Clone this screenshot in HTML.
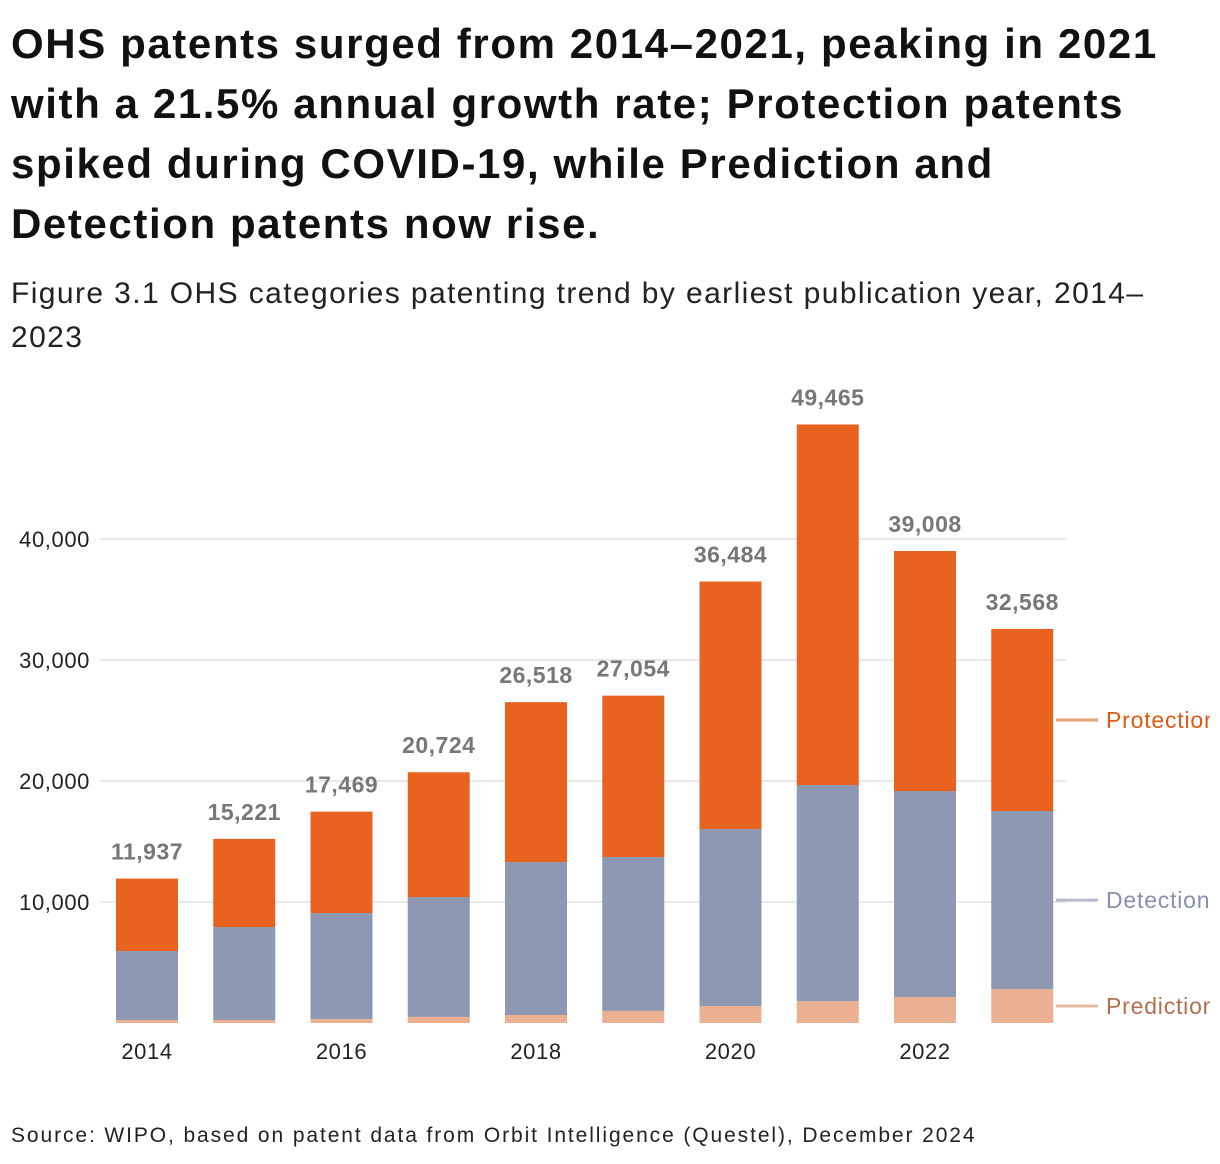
<!DOCTYPE html>
<html><head><meta charset="utf-8"><style>
body{margin:0;background:#fff;font-family:"Liberation Sans",sans-serif;overflow:hidden;}
.title{position:absolute;left:11px;top:14px;width:1220px;white-space:nowrap;font-weight:bold;font-size:42px;letter-spacing:1.6px;line-height:60px;color:#111;}
.sub{position:absolute;left:11px;top:272px;width:1220px;white-space:nowrap;font-size:30px;letter-spacing:1.4px;line-height:44px;color:#222;}
.src{position:absolute;left:11px;top:1124px;white-space:nowrap;font-size:21px;letter-spacing:1.9px;color:#222;}
svg{position:absolute;left:0;top:0;}
</style></head><body>
<div class="title">OHS patents surged from 2014–2021, peaking in 2021<br>with a 21.5% annual growth rate; Protection patents<br>spiked during COVID-19, while Prediction and<br>Detection patents now rise.</div>
<div class="sub">Figure 3.1 OHS categories patenting trend by earliest publication year, 2014–<br>2023</div>
<div class="src">Source: WIPO, based on patent data from Orbit Intelligence (Questel), December 2024</div>
<svg id="chart" width="1210" height="1164"></svg>
<script>
const years=[2014,2015,2016,2017,2018,2019,2020,2021,2022,2023];
const totals=[11937,15221,17469,20724,26518,27054,36484,49465,39008,32568];
const prediction=[250,250,330,500,660,1000,1400,1800,2150,2800];
const detection=[5700,7680,8760,9910,12640,12720,14630,17870,17020,14720];
const yTicks=[10000,20000,30000,40000];
const xTickYears=[2014,2016,2018,2020,2022];
const protection=totals.map((t,i)=>t-prediction[i]-detection[i]);
const ns="http://www.w3.org/2000/svg";
const svg=document.getElementById('chart');
const y=v=>1023-v*484/40000;
const x=i=>147+i*97.25;
const bw=62;
function mk(tag,attrs,txt){const e=document.createElementNS(ns,tag);for(const k in attrs)e.setAttribute(k,attrs[k]);if(txt!==undefined)e.textContent=txt;svg.appendChild(e);return e;}
yTicks.forEach(t=>{
 const g=mk('line',{x1:100,x2:1066,y1:y(t),y2:y(t),stroke:'#e2e2e2','stroke-width':1.5});
 
 
 const l=mk('text',{x:90,y:y(t)+8,'text-anchor':'end','font-size':22,'letter-spacing':0.6,fill:'#222'},t.toLocaleString('en-US'));
 
 
});
const series=[{d:prediction,c:'#EBB091',n:'prediction'},{d:detection,c:'#8E98B2',n:'detection'},{d:protection,c:'#E8631F',n:'protection'}];
years.forEach((yr,i)=>{
 let base=0;
 series.forEach(s=>{
  const v=s.d[i];
  const r=mk('rect',{x:x(i)-bw/2,y:y(base+v),width:bw,height:y(base)-y(base+v),fill:s.c});
  
  
  base+=v;
 });
 const t=mk('text',{x:x(i),y:y(totals[i])-19,'text-anchor':'middle','font-size':23,'font-weight':'bold','letter-spacing':0.5,fill:'#777'},totals[i].toLocaleString('en-US'));
 
 
});
xTickYears.forEach(yr=>{
 const i=years.indexOf(yr);
 const t=mk('text',{x:x(i),y:1059,'text-anchor':'middle','font-size':22,'letter-spacing':0.6,fill:'#222'},yr);
 
 
});
const last=years.length-1;
const legend=[{n:'Protection',lo:prediction[last]+detection[last],v:protection[last],c:'#EBA27F',tc:'#E05A14'},
 {n:'Detection',lo:prediction[last],v:detection[last],c:'#B5BBCB',tc:'#8690AE'},
 {n:'Prediction',lo:0,v:prediction[last],c:'#E8B8A0',tc:'#B07050'}];
legend.forEach(L=>{
 const yy=y(L.lo+L.v/2);
 const ln=mk('line',{x1:1056,x2:1098,y1:yy,y2:yy,stroke:L.c,'stroke-width':3});
 
 
 const t=mk('text',{x:1106,y:yy+8,'font-size':23,'letter-spacing':0.8,fill:L.tc},L.n);
 
 
});
</script>
</body></html>
